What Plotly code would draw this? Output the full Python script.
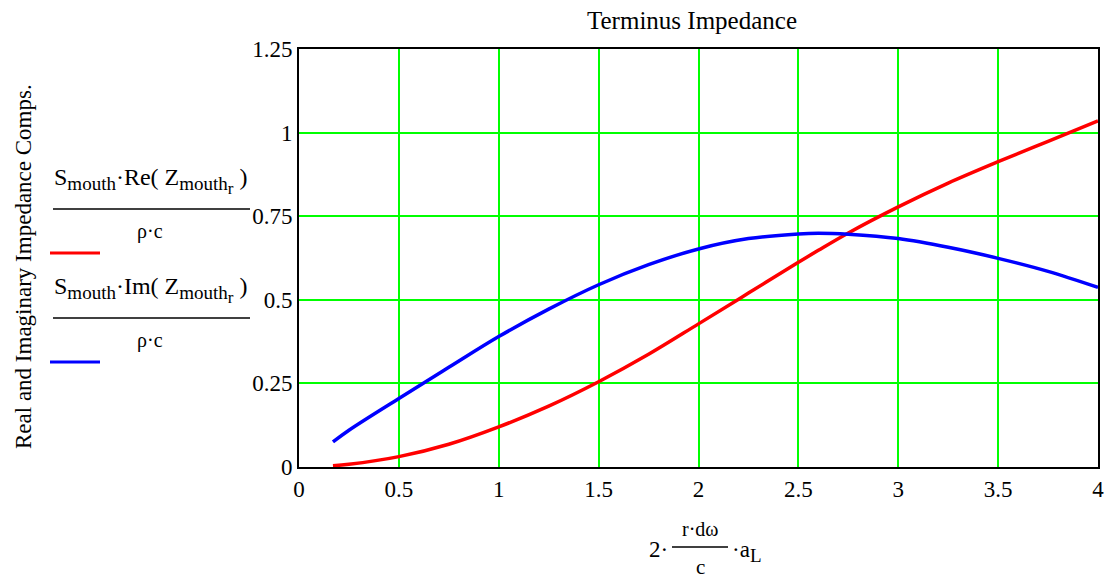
import plotly.graph_objects as go

# Normalised frequency 2*(r*dω/c)*a_L
x_vals = [0.17, 0.25, 0.5, 0.75, 1.0, 1.25, 1.5, 1.75, 2.0, 2.25, 2.5, 2.6, 2.75,
          3.0, 3.25, 3.5, 3.75, 4.0]
# Normalised real part of mouth impedance
re_vals = [0.004, 0.008, 0.031, 0.068, 0.12, 0.182, 0.255, 0.337, 0.428, 0.52,
           0.612, 0.648, 0.700, 0.778, 0.849, 0.913, 0.974, 1.035]
# Normalised imaginary part of mouth impedance
im_vals = [0.075, 0.11, 0.205, 0.298, 0.39, 0.472, 0.545, 0.605, 0.652, 0.683,
           0.697, 0.699, 0.696, 0.683, 0.657, 0.624, 0.585, 0.537]

x_ticks = [0, 0.5, 1, 1.5, 2, 2.5, 3, 3.5, 4]
x_tick_text = ["0", "0.5", "1", "1.5", "2", "2.5", "3", "3.5", "4"]
y_ticks = [0, 0.25, 0.5, 0.75, 1, 1.25]
y_tick_text = ["0", "0.25", "0.5", "0.75", "1", "1.25"]

FONT = "Liberation Serif"
W, H = 1110, 581
L, R, T, B = 299, 12, 49, 114

fig = go.Figure()
fig.add_trace(go.Scatter(x=x_vals, y=re_vals, mode="lines",
                         line=dict(color="#FF0000", width=3.5, shape="spline"),
                         showlegend=False))
fig.add_trace(go.Scatter(x=x_vals, y=im_vals, mode="lines",
                         line=dict(color="#0000FF", width=3.5, shape="spline"),
                         showlegend=False))

axis_common = dict(showline=True, linecolor="#000000", linewidth=2, mirror=True,
                   showgrid=True, gridcolor="#00FF00", gridwidth=2,
                   zeroline=False, ticks="", automargin=False,
                   tickfont=dict(family=FONT, size=23, color="#000"))
fig.update_xaxes(range=[0, 4], tickvals=x_ticks, ticktext=x_tick_text, **axis_common)
fig.update_yaxes(range=[0, 1.25], tickvals=y_ticks, ticktext=y_tick_text, **axis_common)


def px(xp):
    return (xp - L) / (W - L - R)


def py(yp):
    return (H - B - yp) / (H - T - B)


anns = []
shapes = []


def text(xp, yp, s, size=19, angle=0, anchor="center"):
    anns.append(dict(x=px(xp), y=py(yp), xref="paper", yref="paper", text=s,
                     showarrow=False, xanchor=anchor, yanchor="middle",
                     textangle=angle, font=dict(family=FONT, size=size, color="#000")))


def hline(x0, x1, yp, color="#000", width=1.5):
    shapes.append(dict(type="line", xref="paper", yref="paper",
                       x0=px(x0), x1=px(x1), y0=py(yp), y1=py(yp),
                       line=dict(color=color, width=width)))


def sub(s, size=19):
    return f"<sub><span style='font-size:{size}px'>{s}</span></sub>"


# Title and y-axis title
text(692, 20, "Terminus Impedance", size=25)
text(23, 267, "Real and Imaginary Impedance Comps.", size=23, angle=-90)

# Legend: fraction expressions with sample lines
num_re = "S" + sub("mouth") + "·Re( Z" + sub("mouth" + sub("r", 17)) + " )"
num_im = "S" + sub("mouth") + "·Im( Z" + sub("mouth" + sub("r", 17)) + " )"
text(150, 181, num_re, size=24)
hline(53, 250, 209)
text(150, 231, "ρ·c", size=20)
hline(50, 100, 253, color="#FF0000", width=3)

text(150, 290, num_im, size=24)
hline(53, 250, 318)
text(150, 340, "ρ·c", size=20)
hline(50, 100, 362, color="#0000FF", width=3)

# x-axis title: 2·(r·dω / c)·a_L
text(658, 549, "2·", size=23)
text(700, 529, "r·dω", size=20)
hline(672, 728, 547)
text(700, 567, "c", size=21)
text(746, 551, "·a" + sub("L", 19), size=23)

fig.update_layout(width=W, height=H, margin=dict(l=L, r=R, t=T, b=B),
                  paper_bgcolor="#FFFFFF", plot_bgcolor="#FFFFFF",
                  annotations=anns, shapes=shapes, showlegend=False)

fig.write_html("out.html")
